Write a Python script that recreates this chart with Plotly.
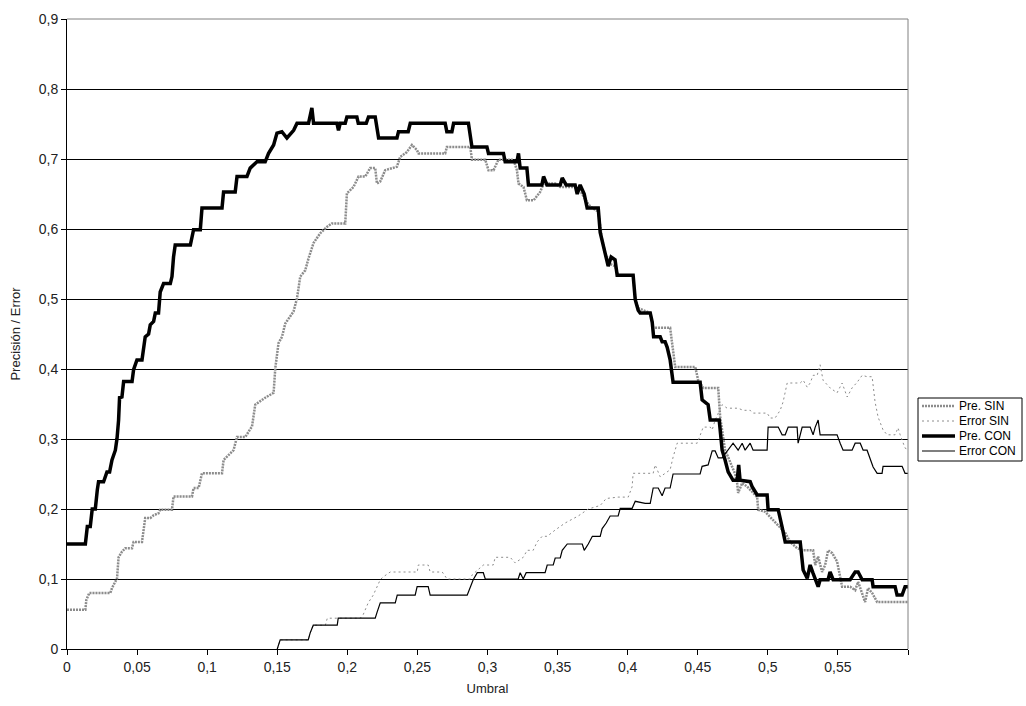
import plotly.graph_objects as go

# Umbral (x) and value (y) breakpoints for each series
pre_sin_x = [0.0, 0.0131, 0.0138, 0.0159, 0.0309, 0.0321, 0.0357, 0.0368, 0.0392, 0.0416, 0.0464, 0.0475,
             0.0535, 0.0558, 0.0594, 0.0618, 0.0653, 0.0665, 0.0749, 0.0760, 0.0892, 0.0903, 0.0939, 0.0963,
             0.1106, 0.1117, 0.1188, 0.1213, 0.1272, 0.1320, 0.1343, 0.1414, 0.1474, 0.1486, 0.1509, 0.1534,
             0.1557, 0.1616, 0.1641, 0.1664, 0.1700, 0.1723, 0.1759, 0.1807, 0.1854, 0.1890, 0.1985, 0.1997,
             0.2044, 0.2080, 0.2128, 0.2163, 0.2199, 0.2211, 0.2235, 0.2270, 0.2354, 0.2377, 0.2425, 0.2461,
             0.2496, 0.2508, 0.2698, 0.2710, 0.2877, 0.2889, 0.2984, 0.3007, 0.3043, 0.3078, 0.3185, 0.3210,
             0.3221, 0.3257, 0.3281, 0.3329, 0.3376, 0.3400, 0.3483, 0.3519, 0.3625, 0.3661, 0.3704, 0.3733,
             0.3790, 0.3818, 0.3839, 0.3875, 0.3910, 0.3932, 0.4039, 0.4054, 0.4075, 0.4161, 0.4182, 0.4303,
             0.4317, 0.4339, 0.4482, 0.4503, 0.4539, 0.4646, 0.4660, 0.4681, 0.4695, 0.4717, 0.4767, 0.4781,
             0.4788, 0.4817, 0.4853, 0.4924, 0.4931, 0.4981, 0.5102, 0.5124, 0.5159, 0.5209, 0.5252, 0.5323,
             0.5338, 0.5359, 0.5387, 0.5409, 0.5430, 0.5459, 0.5494, 0.5530, 0.5587, 0.5623, 0.5644, 0.5694,
             0.5715, 0.5744, 0.5780, 0.6000]
pre_sin_y = [0.056, 0.056, 0.070, 0.080, 0.080, 0.087, 0.101, 0.131, 0.139, 0.144, 0.144, 0.153,
             0.153, 0.187, 0.187, 0.191, 0.194, 0.199, 0.199, 0.218, 0.218, 0.230, 0.230, 0.251,
             0.251, 0.270, 0.284, 0.303, 0.303, 0.318, 0.349, 0.359, 0.366, 0.401, 0.437, 0.446,
             0.465, 0.482, 0.501, 0.532, 0.541, 0.558, 0.580, 0.594, 0.603, 0.608, 0.608, 0.651,
             0.660, 0.675, 0.675, 0.687, 0.687, 0.665, 0.668, 0.684, 0.689, 0.703, 0.710, 0.720,
             0.713, 0.708, 0.708, 0.717, 0.717, 0.699, 0.699, 0.684, 0.684, 0.699, 0.699, 0.684,
             0.665, 0.660, 0.641, 0.641, 0.653, 0.665, 0.665, 0.660, 0.660, 0.655, 0.640, 0.632,
             0.625, 0.585, 0.566, 0.550, 0.547, 0.534, 0.534, 0.500, 0.487, 0.480, 0.459, 0.459,
             0.437, 0.403, 0.403, 0.384, 0.373, 0.373, 0.331, 0.303, 0.284, 0.274, 0.250, 0.237,
             0.223, 0.237, 0.232, 0.217, 0.199, 0.196, 0.170, 0.166, 0.153, 0.144, 0.141, 0.141,
             0.120, 0.132, 0.110, 0.120, 0.141, 0.137, 0.125, 0.089, 0.089, 0.084, 0.096, 0.067,
             0.087, 0.080, 0.067, 0.067]

error_sin_x = [0.1500, 0.1521, 0.1721, 0.1735, 0.1757, 0.1843, 0.1857, 0.2092, 0.2113, 0.2149, 0.2185,
               0.2213, 0.2235, 0.2256, 0.2306, 0.2499, 0.2506, 0.2577, 0.2591, 0.2677, 0.2712, 0.2877,
               0.2891, 0.2948, 0.2970, 0.3041, 0.3055, 0.3162, 0.3197, 0.3255, 0.3283, 0.3326, 0.3354,
               0.3390, 0.3426, 0.3483, 0.3554, 0.3647, 0.3719, 0.3804, 0.3847, 0.3932, 0.4004, 0.4032,
               0.4039, 0.4182, 0.4196, 0.4232, 0.4303, 0.4324, 0.4353, 0.4496, 0.4517, 0.4539, 0.4589,
               0.4603, 0.4624, 0.4674, 0.4710, 0.4788, 0.4824, 0.4874, 0.4895, 0.4995, 0.5017, 0.5052,
               0.5088, 0.5109, 0.5138, 0.5231, 0.5252, 0.5281, 0.5302, 0.5323, 0.5352, 0.5373, 0.5394,
               0.5444, 0.5494, 0.5530, 0.5566, 0.5601, 0.5637, 0.5673, 0.5708, 0.5744, 0.5765, 0.5787,
               0.5822, 0.5851, 0.5908, 0.5929, 0.5944, 0.5979, 0.6000]
error_sin_y = [0.000, 0.013, 0.013, 0.023, 0.034, 0.034, 0.044, 0.044, 0.049, 0.066, 0.077,
               0.089, 0.099, 0.103, 0.110, 0.110, 0.120, 0.120, 0.110, 0.110, 0.100, 0.100,
               0.106, 0.116, 0.120, 0.120, 0.131, 0.131, 0.123, 0.131, 0.141, 0.141, 0.153,
               0.161, 0.161, 0.170, 0.180, 0.190, 0.200, 0.205, 0.215, 0.217, 0.217, 0.232,
               0.251, 0.251, 0.263, 0.246, 0.256, 0.274, 0.294, 0.294, 0.306, 0.317, 0.317,
               0.313, 0.327, 0.349, 0.344, 0.344, 0.341, 0.341, 0.337, 0.337, 0.330, 0.330,
               0.341, 0.353, 0.380, 0.380, 0.384, 0.374, 0.380, 0.391, 0.391, 0.406, 0.384,
               0.373, 0.366, 0.380, 0.360, 0.373, 0.381, 0.391, 0.389, 0.389, 0.353, 0.331,
               0.313, 0.306, 0.306, 0.316, 0.306, 0.287, 0.285]

pre_con_x = [0.0, 0.0131, 0.0145, 0.0166, 0.0180, 0.0202, 0.0216, 0.0225, 0.0261, 0.0285, 0.0304, 0.0321,
             0.0345, 0.0357, 0.0368, 0.0375, 0.0392, 0.0404, 0.0464, 0.0475, 0.0499, 0.0535, 0.0558, 0.0582,
             0.0594, 0.0618, 0.0630, 0.0653, 0.0665, 0.0689, 0.0737, 0.0749, 0.0760, 0.0772, 0.0880, 0.0903,
             0.0951, 0.0963, 0.1106, 0.1117, 0.1200, 0.1213, 0.1284, 0.1307, 0.1355, 0.1414, 0.1438, 0.1474,
             0.1498, 0.1533, 0.1569, 0.1617, 0.1641, 0.1723, 0.1747, 0.1759, 0.1926, 0.1937, 0.1949, 0.1985,
             0.1997, 0.2068, 0.2078, 0.2135, 0.2151, 0.2199, 0.2223, 0.2354, 0.2365, 0.2434, 0.2449, 0.2698,
             0.2710, 0.2746, 0.2758, 0.2864, 0.2889, 0.2996, 0.3007, 0.3114, 0.3126, 0.3210, 0.3221, 0.3233,
             0.3281, 0.3292, 0.3388, 0.3400, 0.3424, 0.3519, 0.3533, 0.3561, 0.3625, 0.3640, 0.3661, 0.3690,
             0.3711, 0.3790, 0.3804, 0.3825, 0.3839, 0.3861, 0.3882, 0.3910, 0.3925, 0.4039, 0.4054, 0.4075,
             0.4089, 0.4161, 0.4175, 0.4185, 0.4232, 0.4246, 0.4267, 0.4282, 0.4303, 0.4324, 0.4517, 0.4531,
             0.4574, 0.4589, 0.4653, 0.4674, 0.4695, 0.4717, 0.4752, 0.4781, 0.4792, 0.4802, 0.4874, 0.4888,
             0.4924, 0.4995, 0.5002, 0.5074, 0.5102, 0.5124, 0.5231, 0.5245, 0.5252, 0.5281, 0.5302, 0.5323,
             0.5359, 0.5373, 0.5430, 0.5444, 0.5466, 0.5587, 0.5623, 0.5644, 0.5673, 0.5744, 0.5751, 0.5908,
             0.5922, 0.5958, 0.5979, 0.6000]
pre_con_y = [0.150, 0.150, 0.175, 0.175, 0.200, 0.200, 0.227, 0.239, 0.239, 0.253, 0.253, 0.270,
             0.284, 0.301, 0.327, 0.359, 0.360, 0.382, 0.382, 0.399, 0.413, 0.413, 0.446, 0.450,
             0.463, 0.468, 0.480, 0.480, 0.510, 0.522, 0.522, 0.532, 0.560, 0.577, 0.577, 0.599,
             0.599, 0.630, 0.630, 0.653, 0.653, 0.675, 0.675, 0.687, 0.696, 0.696, 0.708, 0.720,
             0.737, 0.739, 0.730, 0.741, 0.751, 0.751, 0.773, 0.751, 0.751, 0.741, 0.751, 0.751,
             0.760, 0.760, 0.751, 0.751, 0.760, 0.760, 0.730, 0.730, 0.739, 0.739, 0.751, 0.751,
             0.739, 0.739, 0.751, 0.751, 0.717, 0.717, 0.708, 0.708, 0.696, 0.696, 0.708, 0.687,
             0.687, 0.663, 0.663, 0.675, 0.663, 0.663, 0.673, 0.663, 0.663, 0.650, 0.663, 0.650,
             0.630, 0.630, 0.595, 0.577, 0.570, 0.547, 0.560, 0.556, 0.534, 0.534, 0.499, 0.484,
             0.480, 0.480, 0.467, 0.446, 0.446, 0.439, 0.439, 0.431, 0.413, 0.381, 0.381, 0.356,
             0.349, 0.327, 0.327, 0.284, 0.270, 0.253, 0.241, 0.241, 0.263, 0.241, 0.239, 0.232,
             0.220, 0.220, 0.199, 0.199, 0.174, 0.153, 0.153, 0.127, 0.113, 0.101, 0.120, 0.108,
             0.089, 0.099, 0.099, 0.110, 0.099, 0.099, 0.110, 0.110, 0.099, 0.099, 0.089, 0.089,
             0.077, 0.077, 0.089, 0.089]

error_con_x = [0.1500, 0.1521, 0.1721, 0.1735, 0.1757, 0.1928, 0.1935, 0.2199, 0.2213, 0.2235, 0.2342,
               0.2356, 0.2484, 0.2498, 0.2577, 0.2591, 0.2855, 0.2877, 0.2898, 0.2927, 0.2970, 0.2984,
               0.3219, 0.3233, 0.3255, 0.3276, 0.3411, 0.3426, 0.3469, 0.3483, 0.3519, 0.3533, 0.3569,
               0.3676, 0.3690, 0.3719, 0.3748, 0.3804, 0.3818, 0.3847, 0.3875, 0.3932, 0.3947, 0.4032,
               0.4054, 0.4125, 0.4161, 0.4182, 0.4218, 0.4246, 0.4267, 0.4303, 0.4324, 0.4517, 0.4531,
               0.4574, 0.4603, 0.4624, 0.4646, 0.4674, 0.4710, 0.4752, 0.4788, 0.4817, 0.4838, 0.4874,
               0.4895, 0.4995, 0.5002, 0.5074, 0.5102, 0.5124, 0.5145, 0.5209, 0.5216, 0.5245, 0.5302,
               0.5323, 0.5338, 0.5359, 0.5373, 0.5494, 0.5516, 0.5537, 0.5601, 0.5623, 0.5659, 0.5680,
               0.5708, 0.5730, 0.5751, 0.5780, 0.5815, 0.5822, 0.5958, 0.5979, 0.6000]
error_con_y = [0.000, 0.013, 0.013, 0.023, 0.034, 0.034, 0.044, 0.044, 0.053, 0.066, 0.066,
               0.077, 0.077, 0.089, 0.089, 0.077, 0.077, 0.089, 0.099, 0.109, 0.109, 0.100,
               0.100, 0.109, 0.100, 0.109, 0.109, 0.120, 0.120, 0.130, 0.130, 0.141, 0.150,
               0.150, 0.141, 0.150, 0.161, 0.161, 0.172, 0.180, 0.190, 0.190, 0.201, 0.201,
               0.211, 0.208, 0.208, 0.230, 0.230, 0.219, 0.230, 0.230, 0.250, 0.250, 0.261,
               0.263, 0.283, 0.283, 0.273, 0.273, 0.283, 0.294, 0.284, 0.294, 0.284, 0.294,
               0.284, 0.284, 0.317, 0.317, 0.306, 0.306, 0.317, 0.317, 0.294, 0.317, 0.317,
               0.306, 0.317, 0.327, 0.306, 0.306, 0.294, 0.284, 0.284, 0.294, 0.294, 0.284,
               0.284, 0.273, 0.260, 0.251, 0.251, 0.261, 0.261, 0.251, 0.251]

series_names = ["Pre. SIN", "Error SIN", "Pre. CON", "Error CON"]

x_tick_vals = [0, 0.05, 0.1, 0.15, 0.2, 0.25, 0.3, 0.35, 0.4, 0.45, 0.5, 0.55, 0.6]
x_tick_text = ["0", "0,05", "0,1", "0,15", "0,2", "0,25", "0,3", "0,35", "0,4", "0,45", "0,5", "0,55", ""]
y_tick_vals = [0, 0.1, 0.2, 0.3, 0.4, 0.5, 0.6, 0.7, 0.8, 0.9]
y_tick_text = ["0", "0,1", "0,2", "0,3", "0,4", "0,5", "0,6", "0,7", "0,8", "0,9"]

FONT = "Liberation Sans, Arial, sans-serif"

line_styles = [
    dict(color="#8c8c8c", width=2.5, dash="2px,1px"),
    dict(color="#8c8c8c", width=1, dash="2px,3px"),
    dict(color="#000000", width=3.5),
    dict(color="#000000", width=1.2),
]
series_xy = [(pre_sin_x, pre_sin_y), (error_sin_x, error_sin_y),
             (pre_con_x, pre_con_y), (error_con_x, error_con_y)]

fig = go.Figure()
for name, (xs, ys), style in zip(series_names, series_xy, line_styles):
    fig.add_trace(go.Scatter(x=xs, y=ys, name=name, mode="lines", line=style, showlegend=False))

# plot area spans pixels 67..908 horizontally and 19..649 vertically
L, R, T, B = 67, 118, 19, 57
W, H = 1026, 706
pw, ph = W - L - R, H - T - B


def px_x(p):
    return (p - L) / pw


def px_y(p):
    return (H - B - p) / ph


fig.update_layout(
    width=W, height=H,
    margin=dict(l=L, r=R, t=T, b=B),
    paper_bgcolor="white", plot_bgcolor="white",
    font=dict(family=FONT, size=13, color="#222222"),
    showlegend=False,
    xaxis=dict(range=[0, 0.6], tickvals=x_tick_vals, ticktext=x_tick_text,
               showgrid=False, zeroline=False, showline=True, linecolor="black", linewidth=1,
               ticks="outside", ticklen=5, tickcolor="black",
               tickfont=dict(size=14, color="#222222"),
               title=dict(text="Umbral", font=dict(size=13), standoff=10)),
    yaxis=dict(range=[0, 0.9], tickvals=y_tick_vals, ticktext=y_tick_text,
               showgrid=True, gridcolor="#000000", gridwidth=1, zeroline=False,
               showline=True, linecolor="black", linewidth=1,
               ticks="outside", ticklen=5, tickcolor="black",
               tickfont=dict(size=14, color="#222222"),
               title=dict(text="Precisión / Error", font=dict(size=13), standoff=15)),
)

# grey border on the top and right sides of the plot area
fig.add_shape(type="line", xref="paper", yref="paper", x0=0, x1=1, y0=1, y1=1,
              line=dict(color="#808080", width=1))
fig.add_shape(type="line", xref="paper", yref="paper", x0=1, x1=1, y0=0, y1=1,
              line=dict(color="#808080", width=1))

# legend box with line samples and labels
fig.add_shape(type="rect", xref="paper", yref="paper",
              x0=px_x(918), x1=px_x(1022), y0=px_y(461), y1=px_y(398),
              line=dict(color="black", width=1), fillcolor="white")
for i, (name, style) in enumerate(zip(series_names, line_styles)):
    yc = 406 + 15 * i
    fig.add_shape(type="line", xref="paper", yref="paper",
                  x0=px_x(922), x1=px_x(955), y0=px_y(yc), y1=px_y(yc), line=style)
    fig.add_annotation(xref="paper", yref="paper", x=px_x(957), y=px_y(yc),
                       xanchor="left", yanchor="middle", showarrow=False,
                       text=name, font=dict(size=12, color="#000000"))

fig.write_html("out.html")
